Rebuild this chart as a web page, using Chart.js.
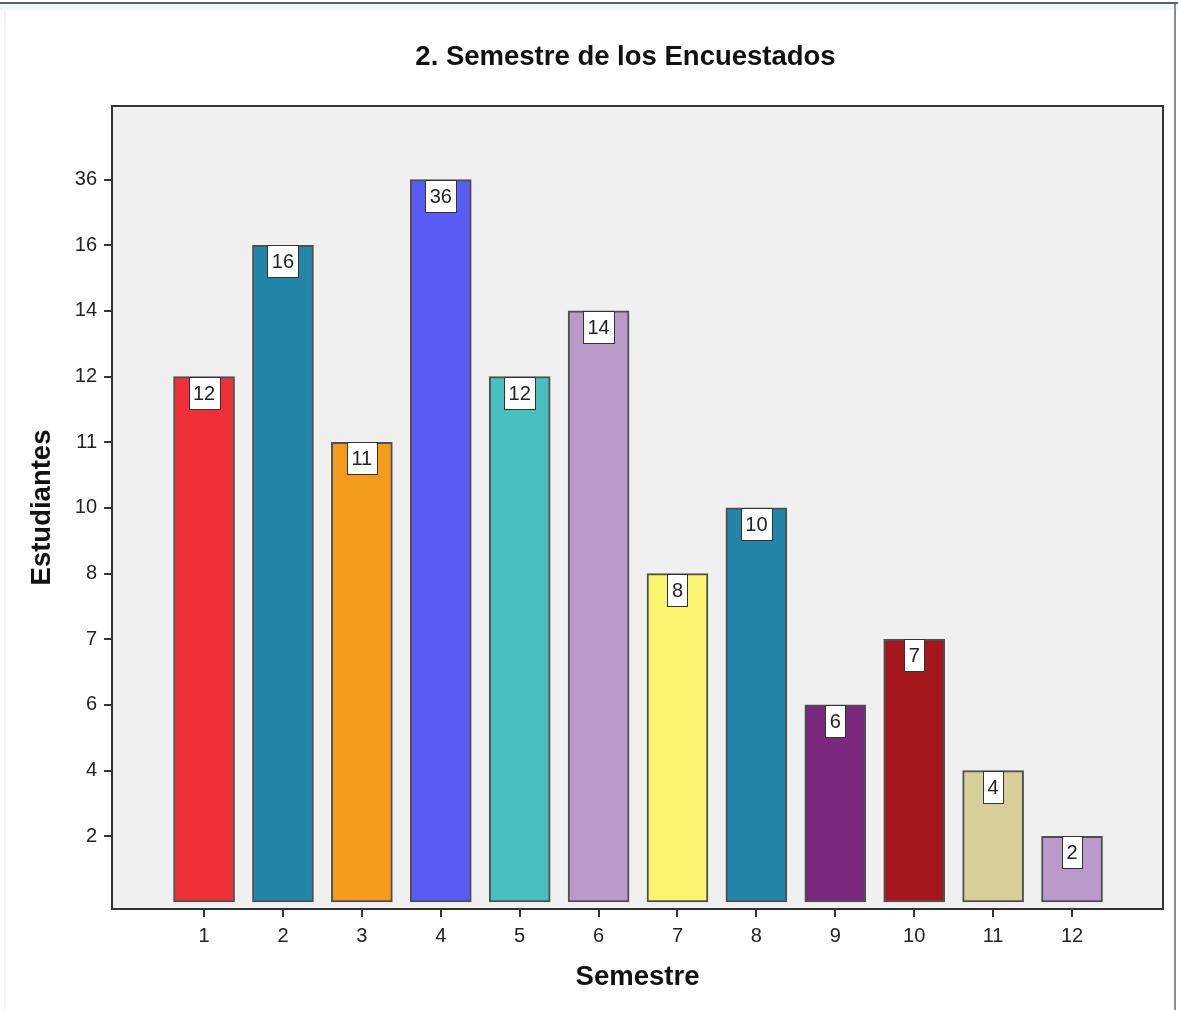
<!DOCTYPE html>
<html>
<head>
<meta charset="utf-8">
<script src="https://cdn.jsdelivr.net/npm/chart.js@4.4.1/dist/chart.umd.min.js"></script>
<style>
    body { margin: 0; background: #fff; overflow: hidden; }
    #wrap { position: relative; width: 1178px; height: 1010px; }
    /* bordes de la ventana */
    .top-line { position: absolute; left: 0; top: 2px; width: 1178px; height: 2px; background: #4b6277; }
    .top-glow { position: absolute; left: 0; top: 4px; width: 1178px; height: 6px; background: #eef8fc; }
    .right-line { position: absolute; left: 1174px; top: 4px; width: 2px; height: 1006px; background: #8c8c8c; }
    .left-line { position: absolute; left: 4px; top: 10px; width: 2px; height: 1000px; background: #eef6fa; }
</style>
</head>
<body>
<div id="wrap">
    <canvas id="chart" width="1178" height="1010"></canvas>
    <div class="top-glow"></div>
    <div class="top-line"></div>
    <div class="left-line"></div>
    <div class="right-line"></div>
</div>
<script>
// Datos
const semesters = [1, 2, 3, 4, 5, 6, 7, 8, 9, 10, 11, 12];
const students = [12, 16, 11, 36, 12, 14, 8, 10, 6, 7, 4, 2];
// El eje Y es ordinal: cada valor distinto ocupa un escalón
const yTickLabels = [2, 4, 6, 7, 8, 10, 11, 12, 14, 16, 36];
const barColors = ['#EF3038', '#2386A8', '#F49B1E', '#5A5CF6', '#48C0C2', '#B99ACA',
                   '#FAF56F', '#2386A8', '#79287E', '#A5171C', '#D6CF98', '#BA9ACB'];

const chartTitle = '2. Semestre de los Encuestados';
const FONT = "'Liberation Sans', Arial, sans-serif";

// Fondo gris y marco del área de trazado
const framePlugin = {
    id: 'frame',
    beforeDraw(chart) {
        const {ctx, chartArea: a} = chart;
        ctx.save();
        ctx.fillStyle = '#F0F0F0';
        ctx.fillRect(a.left, a.top, a.right - a.left, a.bottom - a.top);
        ctx.restore();
    },
    beforeDatasetsDraw(chart) {
        const {ctx, chartArea: a} = chart;
        ctx.save();
        ctx.strokeStyle = '#333';
        ctx.lineWidth = 2;
        ctx.beginPath();
        ctx.moveTo(a.left, a.top);
        ctx.lineTo(a.right, a.top);
        ctx.lineTo(a.right, a.bottom);
        ctx.stroke();
        ctx.restore();
    }
};

// Etiquetas con el valor dentro de cada barra
const valueLabels = {
    id: 'valueLabels',
    afterDatasetsDraw(chart) {
        const {ctx} = chart;
        const meta = chart.getDatasetMeta(0);
        ctx.save();
        ctx.font = '20px ' + FONT;
        ctx.textAlign = 'center';
        ctx.textBaseline = 'middle';
        meta.data.forEach((bar, i) => {
            const text = String(students[i]);
            const w = Math.round(ctx.measureText(text).width + 9);
            const h = 32;
            const x0 = Math.round(bar.x - w / 2) + 0.5;
            const y0 = Math.round(bar.y) + 0.5;
            ctx.fillStyle = '#fff';
            ctx.fillRect(x0, y0, w, h);
            ctx.strokeStyle = '#333';
            ctx.lineWidth = 1;
            ctx.strokeRect(x0, y0, w, h);
            ctx.fillStyle = '#222';
            ctx.fillText(text, bar.x, y0 + h / 2 + 1);
        });
        ctx.restore();
    }
};

// Título principal
const titlePlugin = {
    id: 'mainTitle',
    afterDraw(chart) {
        const {ctx} = chart;
        ctx.save();
        ctx.font = 'bold 27.5px ' + FONT;
        ctx.fillStyle = '#111';
        ctx.textAlign = 'center';
        ctx.textBaseline = 'middle';
        ctx.fillText(chartTitle, 625.5, 57);
        ctx.restore();
    }
};

const ctx = document.getElementById('chart').getContext('2d');
new Chart(ctx, {
    type: 'bar',
    data: {
        datasets: [{
            label: 'Estudiantes',
            data: semesters.map((s, i) => ({x: s, y: yTickLabels.indexOf(students[i]) + 1})),
            backgroundColor: barColors,
            borderColor: 'rgba(25, 25, 25, 0.75)',
            borderWidth: 2,
            borderSkipped: false,
            barThickness: 61
        }]
    },
    options: {
        responsive: false,
        animation: false,
        layout: {
            padding: {top: 106, left: 25.5, right: 15, bottom: 16.5}
        },
        plugins: {
            legend: {display: false},
            tooltip: {enabled: false}
        },
        scales: {
            x: {
                type: 'linear',
                offset: false,
                min: -0.166,
                max: 13.153,
                afterBuildTicks: scale => {
                    scale.ticks = semesters.map(v => ({value: v}));
                },
                ticks: {
                    color: '#222',
                    padding: 7,
                    font: {family: FONT, size: 20},
                    callback: value => String(value)
                },
                grid: {
                    offset: false,
                    drawOnChartArea: false,
                    tickLength: 8,
                    tickColor: '#333',
                    lineWidth: 2
                },
                border: {display: true, color: '#333', width: 2},
                title: {
                    display: true,
                    text: 'Semestre',
                    color: '#111',
                    font: {family: FONT, size: 27.5, weight: 'bold'},
                    padding: {top: 5.5, bottom: 0}
                }
            },
            y: {
                type: 'linear',
                min: -0.107,
                max: 12.12,
                afterBuildTicks: scale => {
                    scale.ticks = yTickLabels.map((v, i) => ({value: i + 1}));
                },
                ticks: {
                    color: '#222',
                    padding: 7,
                    font: {family: FONT, size: 20},
                    callback: value => String(yTickLabels[value - 1])
                },
                grid: {
                    drawOnChartArea: false,
                    tickLength: 8,
                    tickColor: '#333',
                    lineWidth: 2
                },
                border: {display: true, color: '#333', width: 2},
                title: {
                    display: true,
                    text: 'Estudiantes',
                    color: '#111',
                    font: {family: FONT, size: 27.5, weight: 'bold'},
                    padding: {top: 0, bottom: 9.3}
                }
            }
        }
    },
    plugins: [framePlugin, valueLabels, titlePlugin]
});
</script>
</body>
</html>
